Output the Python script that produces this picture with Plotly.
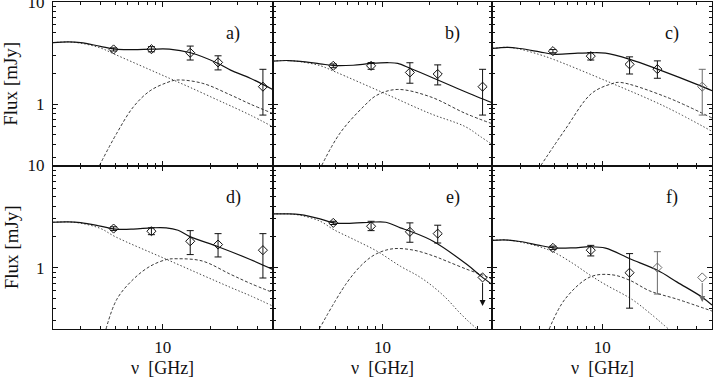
import numpy as np
import plotly.graph_objects as go
from plotly.subplots import make_subplots

# ---------------- observed data ----------------
NU_OBS = [4.86, 8.46, 14.94, 22.46, 43.34]

A_FLUX = [3.43, 3.45, 3.18, 2.56, 1.48]
A_EP = [0.12, 0.20, 0.52, 0.41, 0.71]
A_EM = [0.12, 0.20, 0.48, 0.40, 0.70]

B_FLUX = [2.37, 2.37, 2.04, 1.97, 1.48]
B_EP = [0.10, 0.18, 0.50, 0.45, 0.71]
B_EM = [0.10, 0.18, 0.44, 0.43, 0.70]

C_FLUX = [3.30, 2.95, 2.45, 2.20, 1.48]
C_EP = [0.12, 0.25, 0.45, 0.45, 0.71]
C_EM = [0.12, 0.25, 0.48, 0.41, 0.70]

D_FLUX = [2.41, 2.27, 1.81, 1.68, 1.48]
D_EP = [0.10, 0.18, 0.49, 0.47, 0.67]
D_EM = [0.10, 0.17, 0.47, 0.41, 0.69]

E_FLUX = [2.74, 2.54, 2.24, 2.15, 0.80]
E_EP = [0.10, 0.30, 0.50, 0.45, 0.0]
E_EM = [0.10, 0.24, 0.47, 0.41, 0.0]
E_LIMIT_TIP = 0.42

F_FLUX = [1.56, 1.48, 0.89, 1.00, 0.80]
F_EP = [0.06, 0.17, 0.48, 0.43, 0.0]
F_EM = [0.06, 0.18, 0.49, 0.45, 0.0]
F_LIMIT_TIP = 0.46

# grey error bars (index of point) per panel
GREY_POINTS = {"c": [4], "f": [3, 4]}

# ---------------- model curves ----------------
A_TOT_NU = [2, 2.5, 3, 4, 5, 6.5, 8.5, 11, 15, 22.5, 27, 36, 50]
A_TOT = [4.0, 4.06, 4.0, 3.68, 3.45, 3.42, 3.45, 3.45, 3.18, 2.5, 2.15, 1.79, 1.39]
A_C1_NU = [2, 2.5, 3, 4, 5, 8, 11, 15, 22.5, 27, 36, 50]
A_C1 = [4.0, 4.06, 3.95, 3.55, 3.05, 2.22, 1.79, 1.45, 1.09, 0.96, 0.78, 0.60]
A_C2_NU = [3.95, 5.1, 6.5, 8.3, 10.6, 12.3, 17.8, 26.9, 36, 50]
A_C2 = [0.25, 0.52, 0.94, 1.35, 1.62, 1.72, 1.60, 1.23, 1.0, 0.81]

B_TOT_NU = [2, 2.5, 3, 4, 5, 6.5, 8.5, 11, 12.5, 15, 22.5, 30, 40, 50]
B_TOT = [2.64, 2.67, 2.62, 2.48, 2.38, 2.40, 2.50, 2.54, 2.50, 2.24, 1.72, 1.42, 1.18, 1.03]
B_C1_NU = [2, 2.5, 3, 4, 5, 10, 20, 33.7, 42, 50]
B_C1 = [2.64, 2.67, 2.60, 2.38, 2.07, 1.30, 0.81, 0.60, 0.48, 0.40]
B_C2_NU = [4.1, 5.37, 7.6, 9.2, 12.4, 20.1, 33.7, 50]
B_C2 = [0.25, 0.52, 0.95, 1.22, 1.39, 1.18, 0.81, 0.64]

C_TOT_NU = [2, 2.5, 3, 4, 4.9, 7, 8.5, 10.5, 15, 22.5, 43.5, 50]
C_TOT = [3.51, 3.60, 3.50, 3.25, 3.08, 3.15, 3.18, 3.15, 2.74, 2.20, 1.48, 1.35]
C_C1_NU = [2, 2.5, 3, 4, 4.9, 11.5, 25.3, 50]
C_C1 = [3.51, 3.60, 3.45, 3.05, 2.74, 1.60, 0.94, 0.54]
C_C2_NU = [4.07, 5.8, 8.56, 11.5, 13, 25.3, 50]
C_C2 = [0.25, 0.56, 1.27, 1.58, 1.63, 1.18, 0.73]

D_TOT_NU = [2, 2.5, 3, 4, 5, 6.5, 8.5, 10.5, 12.5, 15, 22.5, 36, 50]
D_TOT = [2.78, 2.80, 2.75, 2.55, 2.38, 2.38, 2.45, 2.45, 2.32, 2.0, 1.6, 1.2, 0.96]
D_C1_NU = [2, 2.5, 3, 4, 5, 10.6, 26.9, 36, 50]
D_C1 = [2.78, 2.80, 2.72, 2.42, 2.0, 1.2, 0.64, 0.53, 0.42]
D_C2_NU = [4.35, 5.1, 6.5, 8.3, 10.6, 12.3, 17.8, 26.9, 36, 50]
D_C2 = [0.25, 0.49, 0.77, 1.03, 1.2, 1.22, 1.16, 0.86, 0.70, 0.57]

E_TOT_NU = [2, 2.5, 3, 4, 4.9, 6.5, 8.4, 10.5, 13, 15, 21, 34.5, 42.5, 50]
E_TOT = [3.35, 3.36, 3.30, 3.0, 2.74, 2.72, 2.78, 2.78, 2.45, 2.27, 1.81, 1.07, 0.82, 0.68]
E_C1_NU = [2, 2.5, 3, 4, 4.9, 6.5, 9.2, 13, 17, 21, 25.8, 30, 35, 40]
E_C1 = [3.35, 3.36, 3.25, 2.85, 2.35, 1.9, 1.45, 1.03, 0.82, 0.65, 0.49, 0.38, 0.30, 0.25]
E_C2_NU = [3.96, 5.93, 7.6, 9.2, 11.7, 15.8, 21.1, 25.8, 34.5, 42, 50]
E_C2 = [0.25, 0.71, 1.11, 1.37, 1.53, 1.48, 1.30, 1.15, 0.96, 0.86, 0.77]

F_TOT_NU = [2, 2.5, 3, 4, 4.9, 6.5, 8.4, 10.5, 15, 22.5, 30, 43.5, 50]
F_TOT = [1.85, 1.86, 1.80, 1.65, 1.56, 1.56, 1.60, 1.55, 1.22, 0.94, 0.72, 0.51, 0.43]
F_C1_NU = [2, 2.5, 3, 4, 4.9, 6.5, 8.4, 10.5, 15.4, 20, 26.4]
F_C1 = [1.85, 1.86, 1.78, 1.60, 1.42, 1.10, 0.84, 0.68, 0.49, 0.36, 0.25]
F_C2_NU = [4.6, 5.8, 8.4, 11.5, 15, 20.1, 30, 50]
F_C2 = [0.25, 0.49, 0.81, 0.85, 0.75, 0.59, 0.49, 0.375]

PANEL_LABELS = ["a)", "b)", "c)", "d)", "e)", "f)"]
X_TITLE = "\u03bd  [GHz]"
Y_TITLE = "Flux [mJy]"

X_RANGE = [2, 50]
Y_RANGE = [0.25, 10]
X_TICKS = [10]
X_MINOR = [2, 3, 4, 5, 6, 7, 8, 9, 20, 30, 40]
Y_TICKS = [1, 10]
Y_MINOR = [0.3, 0.4, 0.5, 0.6, 0.7, 0.8, 0.9, 2, 3, 4, 5, 6, 7, 8, 9]

panels = [
    dict(key="a", r=1, c=1, flux=A_FLUX, ep=A_EP, em=A_EM, lim=None,
         tot=(A_TOT_NU, A_TOT), c1=(A_C1_NU, A_C1), c2=(A_C2_NU, A_C2)),
    dict(key="b", r=1, c=2, flux=B_FLUX, ep=B_EP, em=B_EM, lim=None,
         tot=(B_TOT_NU, B_TOT), c1=(B_C1_NU, B_C1), c2=(B_C2_NU, B_C2)),
    dict(key="c", r=1, c=3, flux=C_FLUX, ep=C_EP, em=C_EM, lim=None,
         tot=(C_TOT_NU, C_TOT), c1=(C_C1_NU, C_C1), c2=(C_C2_NU, C_C2)),
    dict(key="d", r=2, c=1, flux=D_FLUX, ep=D_EP, em=D_EM, lim=None,
         tot=(D_TOT_NU, D_TOT), c1=(D_C1_NU, D_C1), c2=(D_C2_NU, D_C2)),
    dict(key="e", r=2, c=2, flux=E_FLUX, ep=E_EP, em=E_EM, lim=E_LIMIT_TIP,
         tot=(E_TOT_NU, E_TOT), c1=(E_C1_NU, E_C1), c2=(E_C2_NU, E_C2)),
    dict(key="f", r=2, c=3, flux=F_FLUX, ep=F_EP, em=F_EM, lim=F_LIMIT_TIP,
         tot=(F_TOT_NU, F_TOT), c1=(F_C1_NU, F_C1), c2=(F_C2_NU, F_C2)),
]

W, H = 713, 377
ML, MR, MT, MB = 53, 1, 2, 48

fig = make_subplots(rows=2, cols=3, horizontal_spacing=0, vertical_spacing=0)

FONT = "Liberation Serif, Times New Roman, serif"
BLACK = "#111111"
GREY = "#6a6a6a"

for i, p in enumerate(panels):
    r, c = p["r"], p["c"]
    xa = "x" if i == 0 else "x%d" % (i + 1)
    ya = "y" if i == 0 else "y%d" % (i + 1)
    fig.add_trace(go.Scatter(x=p["c1"][0], y=p["c1"][1], mode="lines",
                             line=dict(color="#333333", width=0.9, dash="1.5px,2px", shape="spline"),
                             showlegend=False, hoverinfo="skip"), row=r, col=c)
    fig.add_trace(go.Scatter(x=p["c2"][0], y=p["c2"][1], mode="lines",
                             line=dict(color="#222222", width=0.9, dash="3px,2px", shape="spline"),
                             showlegend=False, hoverinfo="skip"), row=r, col=c)
    fig.add_trace(go.Scatter(x=p["tot"][0], y=p["tot"][1], mode="lines",
                             line=dict(color=BLACK, width=1.2, shape="spline"),
                             showlegend=False, hoverinfo="skip"), row=r, col=c)
    greys = GREY_POINTS.get(p["key"], [])
    n = len(NU_OBS)
    for j in range(n):
        is_lim = p["lim"] is not None and j == n - 1
        col = GREY if j in greys else BLACK
        if is_lim:
            fig.add_trace(go.Scatter(x=[NU_OBS[j]], y=[p["flux"][j]], mode="markers",
                                     marker=dict(symbol="diamond-open", size=7, color=col,
                                                 line=dict(width=1, color=col)),
                                     showlegend=False, hoverinfo="skip"), row=r, col=c)
            fig.add_annotation(x=np.log10(NU_OBS[j]), y=np.log10(p["lim"]),
                               ax=np.log10(NU_OBS[j]), ay=np.log10(p["flux"][j]),
                               xref=xa, yref=ya, axref=xa, ayref=ya,
                               showarrow=True, arrowhead=2, arrowsize=1.2, arrowwidth=1,
                               arrowcolor=col, text="", standoff=0, startstandoff=4)
        else:
            fig.add_trace(go.Scatter(x=[NU_OBS[j]], y=[p["flux"][j]], mode="markers",
                                     marker=dict(symbol="diamond-open", size=7, color=col,
                                                 line=dict(width=1, color=col)),
                                     error_y=dict(type="data", symmetric=False,
                                                  array=[p["ep"][j]], arrayminus=[p["em"][j]],
                                                  color=col, thickness=1, width=3.5),
                                     showlegend=False, hoverinfo="skip"), row=r, col=c)
    fig.add_annotation(text=PANEL_LABELS[i], xref=xa + " domain", yref=ya + " domain",
                       x=0.82, y=0.805, xanchor="center", yanchor="middle", showarrow=False,
                       font=dict(family=FONT, size=18, color=BLACK))
    if r == 2:
        fig.add_annotation(text=X_TITLE, xref=xa + " domain", yref="paper",
                           x=0.5, y=-(368.5 - (H - MB)) / (H - MT - MB),
                           xanchor="center", yanchor="middle", showarrow=False,
                           font=dict(family=FONT, size=18, color=BLACK))
    if c == 1:
        fig.add_annotation(text=Y_TITLE, xref="paper", yref=ya + " domain",
                           x=-(ML - 11) / (W - ML - MR), y=0.5, textangle=-90,
                           xanchor="center", yanchor="middle", showarrow=False,
                           font=dict(family=FONT, size=19, color=BLACK))

axis_common = dict(showline=True, linecolor=BLACK, linewidth=1, mirror="allticks",
                   ticks="inside", ticklen=5, tickwidth=1, tickcolor=BLACK,
                   showgrid=False, zeroline=False, automargin=False,
                   ticklabeloverflow="allow",
                   tickfont=dict(family=FONT, size=17, color=BLACK))

for r in (1, 2):
    for c in (1, 2, 3):
        fig.update_xaxes(type="log", range=[np.log10(X_RANGE[0]), np.log10(X_RANGE[1])],
                         tickvals=X_TICKS, ticktext=[str(v) for v in X_TICKS],
                         showticklabels=(r == 2),
                         minor=dict(tickvals=X_MINOR, ticklen=3, ticks="inside",
                                    tickcolor=BLACK, showgrid=False),
                         ticklabelstandoff=3,
                         row=r, col=c, **axis_common)
        fig.update_yaxes(type="log", range=[np.log10(Y_RANGE[0]), np.log10(Y_RANGE[1])],
                         tickvals=Y_TICKS, ticktext=[str(v) for v in Y_TICKS],
                         showticklabels=(c == 1),
                         minor=dict(tickvals=Y_MINOR, ticklen=3, ticks="inside",
                                    tickcolor=BLACK, showgrid=False),
                         ticklabelstandoff=4,
                         row=r, col=c, **axis_common)

fig.update_layout(width=W, height=H, margin=dict(l=ML, r=MR, t=MT, b=MB, autoexpand=False),
                  paper_bgcolor="white", plot_bgcolor="white",
                  font=dict(family=FONT, color=BLACK), showlegend=False)

fig.write_html("out.html", config={"displayModeBar": False},
               post_script="document.body.style.margin='0';document.body.style.overflow='hidden';")
